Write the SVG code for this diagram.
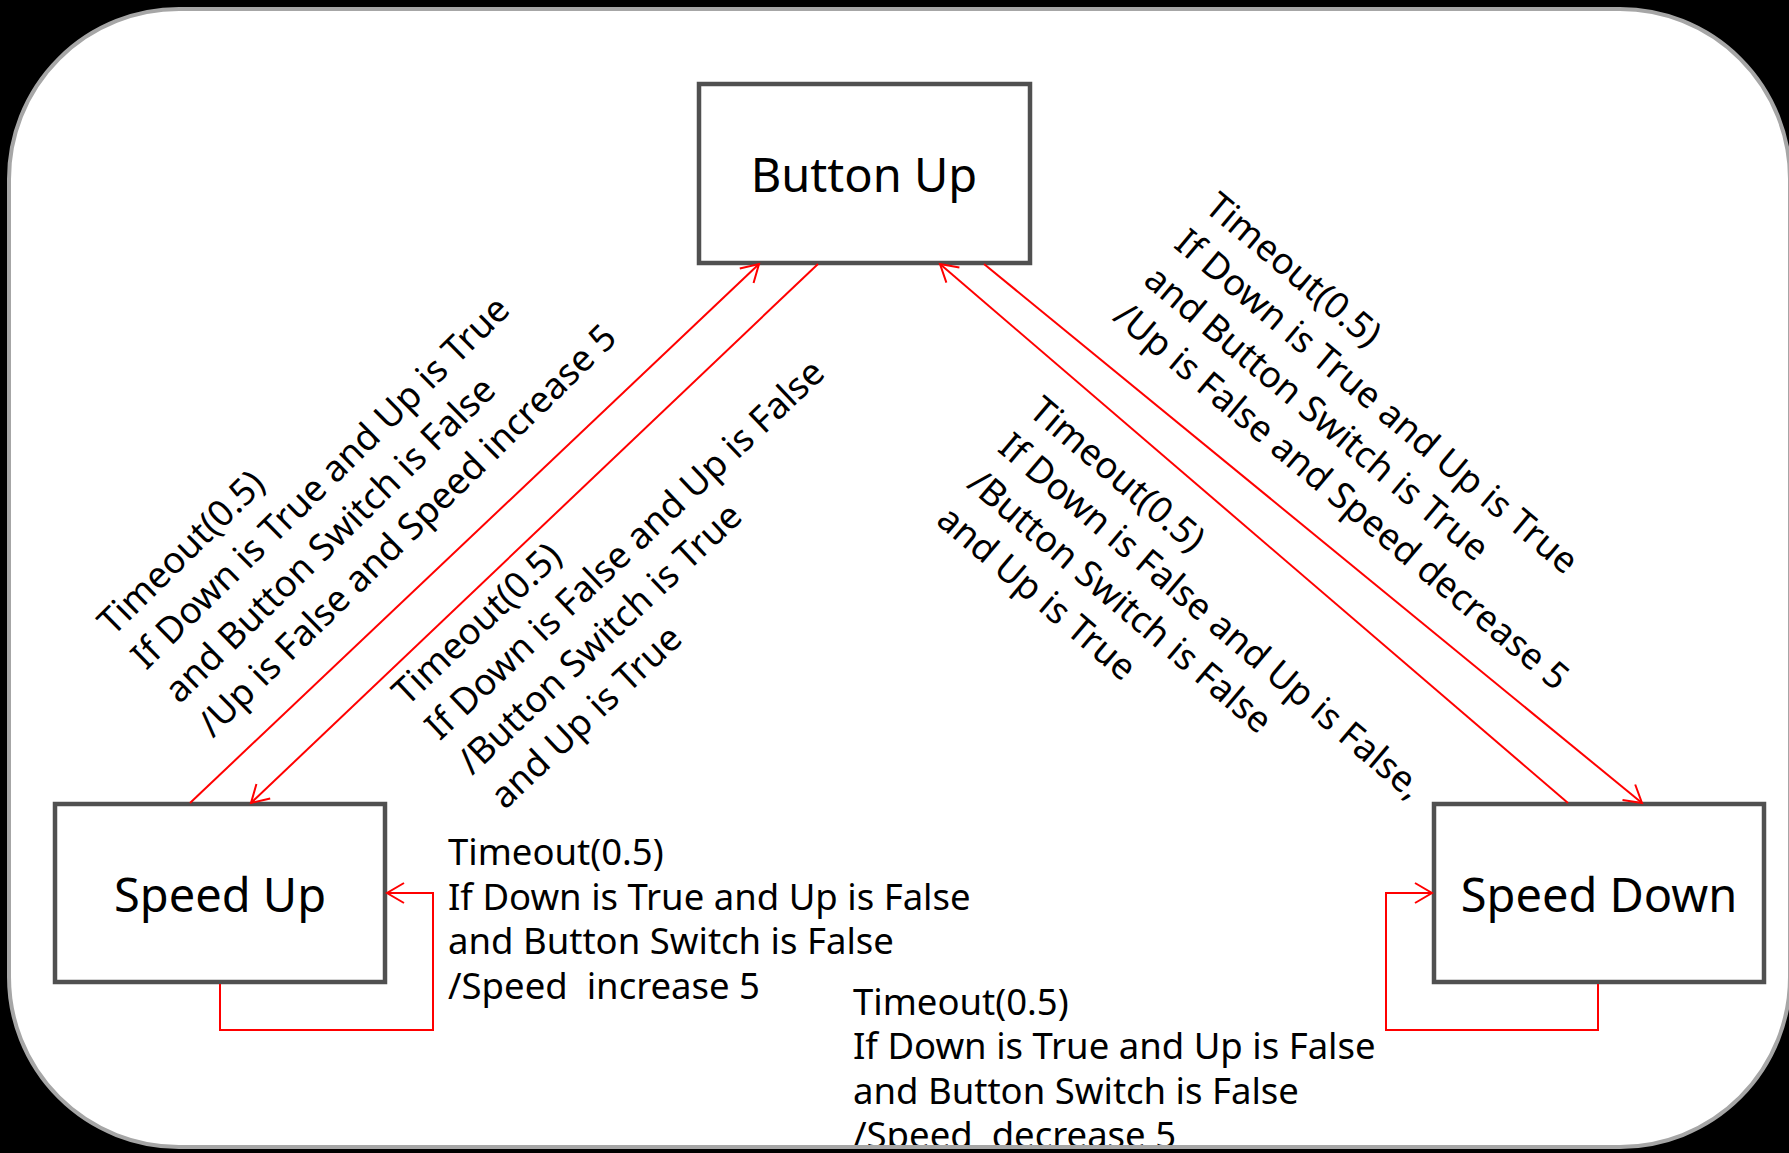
<svg xmlns="http://www.w3.org/2000/svg" width="1789" height="1153" viewBox="0 0 1789 1153">
<defs>
<style>
.node rect{fill:#ffffff;stroke:#505050;stroke-width:4.5}
.node text{font-family:"Noto Sans","Open Sans",sans-serif;font-size:47px;fill:#000;text-anchor:middle}
.edge{fill:none;stroke:#ff0000;stroke-width:2}
.lbl{font-family:"Noto Sans","Open Sans",sans-serif;font-size:36.5px;fill:#000}
.rlbl{font-family:"Noto Sans","Open Sans",sans-serif;font-size:36.5px;fill:#000}
</style>
<marker id="arr" viewBox="-20 -12 24 24" refX="0" refY="0" markerWidth="24" markerHeight="24" markerUnits="userSpaceOnUse" orient="auto">
<path d="M-17,-10 L0,0 L-17,10" fill="none" stroke="#ff0000" stroke-width="2"/>
</marker>
<clipPath id="frame"><rect x="9" y="9" width="1781" height="1138" rx="170" ry="170"/></clipPath>
</defs>
<rect x="0" y="0" width="1789" height="1153" fill="#000000"/>
<rect x="9" y="9" width="1781" height="1138" rx="170" ry="170" fill="#ffffff"/>
<g clip-path="url(#frame)">
<g id="node-button-up" class="node">
<rect x="699" y="84" width="331" height="179"/>
<text x="864" y="192">Button Up</text>
</g>
<g id="node-speed-up" class="node">
<rect x="55" y="804" width="330" height="178"/>
<text x="220" y="912">Speed Up</text>
</g>
<g id="node-speed-down" class="node">
<rect x="1434" y="804" width="330" height="178"/>
<text x="1599" y="912">Speed Down</text>
</g>
<g id="connectors">
<path class="edge" d="M190,803 L759,264" marker-end="url(#arr)"/>
<path class="edge" d="M818,264 L251,803" marker-end="url(#arr)"/>
<path class="edge" d="M1568,803 L940,264" marker-end="url(#arr)"/>
<path class="edge" d="M984,264 L1642,803" marker-end="url(#arr)"/>
<path class="edge" d="M220,984 V1030 H433 V893 H387" marker-end="url(#arr)"/>
<path class="edge" d="M1598,984 V1030 H1386 V893 H1432" marker-end="url(#arr)"/>
</g>
<g id="labels">
<text class="rlbl" transform="translate(113,637) rotate(-44.5)"><tspan x="0" y="0">Timeout(0.5)</tspan><tspan x="0" y="47.5">If Down is True and Up is True</tspan><tspan x="0" y="95">and Button Switch is False</tspan><tspan x="0" y="142.5">/Up is False and Speed increase 5</tspan></text>
<text class="rlbl" transform="translate(407,707) rotate(-43.4)"><tspan x="0" y="0">Timeout(0.5)</tspan><tspan x="0" y="47.5">If Down is False and Up is False</tspan><tspan x="0" y="95">/Button Switch is True</tspan><tspan x="0" y="142.5">and Up is True</tspan></text>
<text class="rlbl" transform="translate(1203,210) rotate(40)"><tspan x="0" y="0">Timeout(0.5)</tspan><tspan x="0" y="47.5">If Down is True and Up is True</tspan><tspan x="0" y="95">and Button Switch is True</tspan><tspan x="0" y="142.5">/Up is False and Speed decrease 5</tspan></text>
<text class="rlbl" transform="translate(1027,414) rotate(40.3)"><tspan x="0" y="0">Timeout(0.5)</tspan><tspan x="0" y="47.5">If Down is False and Up is False,</tspan><tspan x="0" y="95">/Button Switch is False</tspan><tspan x="0" y="142.5">and Up is True</tspan></text>
<text class="lbl" xml:space="preserve"><tspan x="448" y="865">Timeout(0.5)</tspan><tspan x="448" y="909.5">If Down is True and Up is False</tspan><tspan x="448" y="954">and Button Switch is False</tspan><tspan x="448" y="998.5">/Speed  increase 5</tspan></text>
<text class="lbl" xml:space="preserve"><tspan x="853" y="1014.5">Timeout(0.5)</tspan><tspan x="853" y="1059">If Down is True and Up is False</tspan><tspan x="853" y="1103.5">and Button Switch is False</tspan><tspan x="853" y="1148">/Speed  decrease 5</tspan></text>
</g>
</g>
<rect x="9" y="9" width="1781" height="1138" rx="170" ry="170" fill="none" stroke="#a6a6a6" stroke-width="4"/>
</svg>
